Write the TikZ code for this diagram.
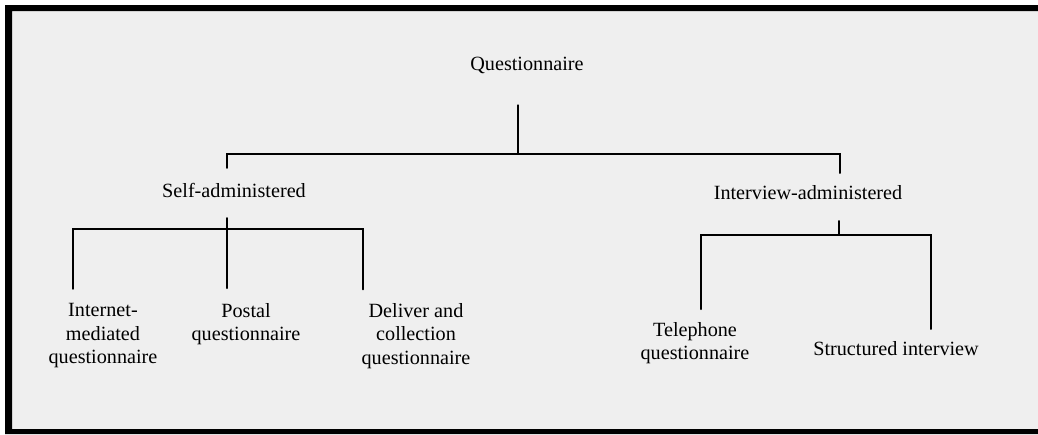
\documentclass[tikz,border=0pt]{standalone}
\usepackage{fontspec}
\setmainfont{Liberation Serif}
\usetikzlibrary{positioning}
\definecolor{PaperGray}{HTML}{EFEFEF}

\begin{document}
\begin{tikzpicture}[x=0.5pt,y=-0.5pt,line cap=round,line width=0.8pt,
  lbl/.style={font=\fontsize{10.1}{11.75}\selectfont,align=center,inner sep=0pt}]
  \useasboundingbox (0,0) rectangle (1038,434);
  \fill[white] (0,0) rectangle (1038,434);
  \fill[PaperGray] (5,5) rectangle (1038,434);
  \fill[black] (5,5) rectangle (1038,11) (5,5) rectangle (12,434) (5,429) rectangle (1038,434);
  % labels
  \node[lbl] (quest) at (527,65) {Questionnaire};
  \node[lbl] (self) at (234,190) {Self-administered};
  \node[lbl] (inter) at (808,193) {Interview-administered};
  \node[lbl] (inet) at (103,336) {Internet-\\mediated\\questionnaire};
  \node[lbl] (postal) at (246,324) {Postal\\questionnaire};
  \node[lbl] (deliver) at (416,336) {Deliver and\\collection\\questionnaire};
  \node[lbl] (phone) at (695,343) {Telephone\\questionnaire};
  \node[lbl] (struct) at (896,349) {Structured interview};
  % branch points
  \coordinate (qbus) at (518,154);
  \coordinate (qbus-l) at (227,154); \coordinate (qbus-r) at (840,154);
  \coordinate (sbus-l) at (73,229); \coordinate (sbus-r) at (363,229);
  \coordinate (ibus) at (839,235);
  \coordinate (ibus-l) at (701,235); \coordinate (ibus-r) at (931,235);
  % top level
  \draw[shorten <=15.5pt] (qbus |- quest.south) -- (qbus);
  \draw[shorten <=7pt,shorten >=6pt] (qbus-l |- self.north) -- (qbus-l) -- (qbus-r) -- (qbus-r |- inter.north);
  % self-administered
  \draw[shorten <=10pt,shorten >=7pt] (qbus-l |- self.south) -- (qbus-l |- postal.north);
  \draw[shorten <=7pt,shorten >=6.5pt] (sbus-l |- inet.north) -- (sbus-l) -- (sbus-r) -- (sbus-r |- deliver.north);
  % interview-administered
  \draw[shorten <=10pt] (ibus |- inter.south) -- (ibus);
  \draw[shorten <=6pt,shorten >=6pt] (ibus-l |- phone.north) -- (ibus-l) -- (ibus-r) -- (ibus-r |- struct.north);
\end{tikzpicture}
\end{document}
